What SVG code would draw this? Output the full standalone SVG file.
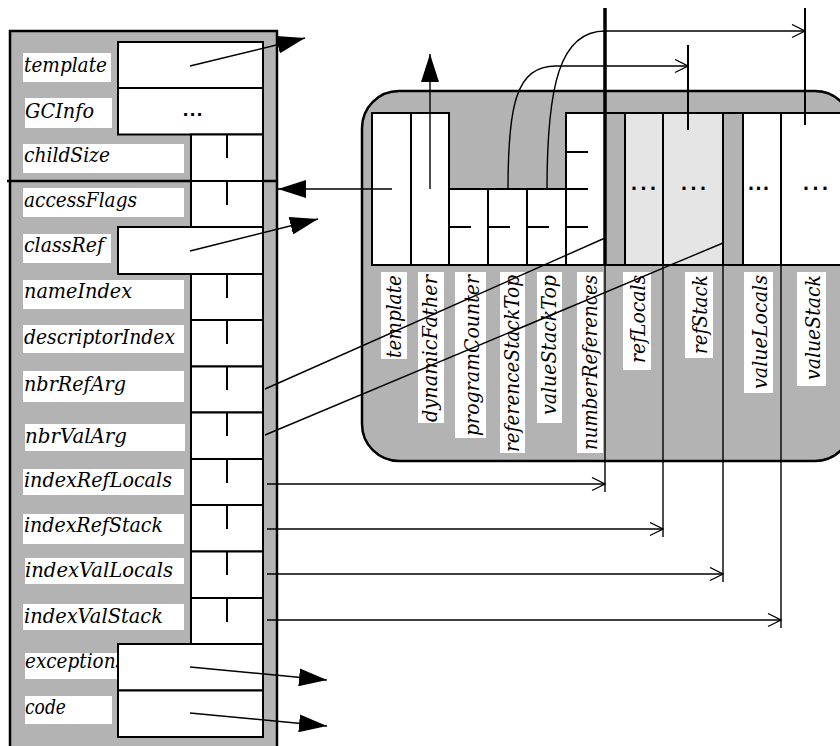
<svg xmlns="http://www.w3.org/2000/svg" width="840" height="746" viewBox="0 0 840 746">
<style>
.lbl{font-family:"DejaVu Serif","Liberation Serif",serif;font-style:italic;font-size:19.5px;fill:#000}
.dots{font-family:"DejaVu Sans","Liberation Sans",sans-serif;font-weight:bold;font-size:17px;fill:#000;text-anchor:middle;letter-spacing:3px}
.bg{fill:#fff}
.cell{fill:#fff;stroke:#000;stroke-width:2}
.lg{fill:#e5e5e5;stroke:#000;stroke-width:2}
.gr{fill:#b3b3b3;stroke:#000;stroke-width:2}
.tick{stroke:#000;stroke-width:2;fill:none}
.conn{fill:none;stroke:#000;stroke-width:1.4}
.big{fill:none;stroke:#000;stroke-width:1.4;marker-end:url(#fill)}
.open{fill:none;stroke:#000;stroke-width:1.4;marker-end:url(#vee)}
</style>
<defs>
<marker id="fill" markerUnits="userSpaceOnUse" viewBox="0 0 28 18" refX="28" refY="9" markerWidth="28" markerHeight="18" orient="auto"><path d="M0,0 L28,9 L0,18 z" fill="#000"/></marker>
<marker id="vee" markerUnits="userSpaceOnUse" viewBox="-1 -1 15 15" refX="13" refY="6.5" markerWidth="15" markerHeight="15" orient="auto"><path d="M0,0 L13,6.5 L0,13" fill="none" stroke="#000" stroke-width="1.3"/></marker>
</defs>

<!-- Left panel: method descriptor -->
<g id="method">
<rect x="10" y="31" width="267" height="730" fill="#b3b3b3" stroke="#000" stroke-width="2.5"/>
<line x1="7" y1="181" x2="277" y2="181" stroke="#000" stroke-width="2.5"/>
<g id="row-template"><rect class="bg" x="23" y="53" width="88" height="29"/><text class="lbl" x="24" y="72" textLength="83" lengthAdjust="spacingAndGlyphs">template</text><rect class="cell" x="118" y="42" width="145" height="46"/></g>
<g id="row-GCInfo"><rect class="bg" x="25" y="98" width="87" height="30"/><text class="lbl" x="25" y="118" textLength="69" lengthAdjust="spacingAndGlyphs">GCInfo</text><rect class="cell" x="118" y="88" width="145" height="46.5"/><text x="193" y="116" font-family="DejaVu Sans,sans-serif" font-weight="bold" font-size="16" text-anchor="middle" letter-spacing="1">...</text></g>
<g id="row-childSize"><rect class="bg" x="23" y="144" width="161" height="29"/><text class="lbl" x="24" y="162" textLength="86" lengthAdjust="spacingAndGlyphs">childSize</text><rect class="cell" x="191" y="134.5" width="72" height="46.5"/><line class="tick" x1="227" y1="134.5" x2="227" y2="158"/></g>
<g id="row-accessFlags"><rect class="bg" x="23" y="188" width="161" height="29"/><text class="lbl" x="24" y="207" textLength="113" lengthAdjust="spacingAndGlyphs">accessFlags</text><rect class="cell" x="191" y="181" width="72" height="46"/><line class="tick" x1="227" y1="181" x2="227" y2="205"/></g>
<g id="row-classRef"><rect class="bg" x="23" y="234" width="88" height="29"/><text class="lbl" x="24" y="252" textLength="80" lengthAdjust="spacingAndGlyphs">classRef</text><rect class="cell" x="118" y="227" width="145" height="47"/></g>
<g id="row-nameIndex"><rect class="bg" x="23" y="280" width="161" height="29"/><text class="lbl" x="24" y="298" textLength="108" lengthAdjust="spacingAndGlyphs">nameIndex</text><rect class="cell" x="191" y="274" width="72" height="46"/><line class="tick" x1="227" y1="274" x2="227" y2="298"/></g>
<g id="row-descriptorIndex"><rect class="bg" x="23" y="325" width="161" height="28"/><text class="lbl" x="24" y="344" textLength="151" lengthAdjust="spacingAndGlyphs">descriptorIndex</text><rect class="cell" x="191" y="320" width="72" height="46.5"/><line class="tick" x1="227" y1="320" x2="227" y2="344"/></g>
<g id="row-nbrRefArg"><rect class="bg" x="23" y="371" width="161" height="31"/><text class="lbl" x="24" y="391" textLength="102" lengthAdjust="spacingAndGlyphs">nbrRefArg</text><rect class="cell" x="191" y="366.5" width="72" height="46"/><line class="tick" x1="227" y1="366.5" x2="227" y2="390"/></g>
<g id="row-nbrValArg"><rect class="bg" x="25" y="424" width="160" height="27"/><text class="lbl" x="25" y="443" textLength="102" lengthAdjust="spacingAndGlyphs">nbrValArg</text><rect class="cell" x="191" y="412.5" width="72" height="46.5"/><line class="tick" x1="227" y1="412.5" x2="227" y2="436"/></g>
<g id="row-indexRefLocals"><rect class="bg" x="23" y="469" width="161" height="26"/><text class="lbl" x="24" y="487" textLength="148" lengthAdjust="spacingAndGlyphs">indexRefLocals</text><rect class="cell" x="191" y="459" width="72" height="46"/><line class="tick" x1="227" y1="459" x2="227" y2="483"/></g>
<g id="row-indexRefStack"><rect class="bg" x="23" y="514" width="161" height="30"/><text class="lbl" x="24" y="532" textLength="139" lengthAdjust="spacingAndGlyphs">indexRefStack</text><rect class="cell" x="191" y="505" width="72" height="46.5"/><line class="tick" x1="227" y1="505" x2="227" y2="529"/></g>
<g id="row-indexValLocals"><rect class="bg" x="25" y="558" width="159" height="26"/><text class="lbl" x="25" y="577" textLength="148" lengthAdjust="spacingAndGlyphs">indexValLocals</text><rect class="cell" x="191" y="551.5" width="72" height="46.5"/><line class="tick" x1="227" y1="551.5" x2="227" y2="575"/></g>
<g id="row-indexValStack"><rect class="bg" x="23" y="604" width="161" height="26"/><text class="lbl" x="24" y="623" textLength="139" lengthAdjust="spacingAndGlyphs">indexValStack</text><rect class="cell" x="191" y="598" width="72" height="46"/><line class="tick" x1="227" y1="598" x2="227" y2="622"/></g>
<g id="row-exceptions"><rect class="bg" x="25" y="653" width="93" height="26"/><text class="lbl" x="25" y="668" textLength="100" lengthAdjust="spacingAndGlyphs">exceptions</text><rect class="cell" x="118" y="644" width="145" height="46.5"/></g>
<g id="row-code"><rect class="bg" x="25" y="696" width="87" height="28"/><text class="lbl" x="25" y="714" textLength="41" lengthAdjust="spacingAndGlyphs">code</text><rect class="cell" x="118" y="690.5" width="145" height="46.5"/></g>
</g>

<!-- Right panel: frame -->
<g id="frame">
<rect x="362" y="91" width="490" height="370" rx="37" ry="37" fill="#b3b3b3" stroke="#000" stroke-width="2.5"/>
<g id="col-template"><rect class="cell" x="372" y="113" width="39" height="152"/><rect class="bg" x="381" y="272" width="26" height="87"/><text class="lbl" transform="translate(401,275) rotate(-90)" text-anchor="end" textLength="83" lengthAdjust="spacingAndGlyphs">template</text></g>
<g id="col-dynamicFather"><rect class="cell" x="411" y="113" width="38" height="152"/><rect class="bg" x="418" y="272" width="26" height="151"/><text class="lbl" transform="translate(437,275) rotate(-90)" text-anchor="end" textLength="147" lengthAdjust="spacingAndGlyphs">dynamicFather</text></g>
<g id="col-programCounter"><rect class="cell" x="449" y="189" width="39" height="76"/><line class="tick" x1="449" y1="227" x2="471" y2="227"/><rect class="bg" x="455" y="272" width="31" height="166"/><text class="lbl" transform="translate(479,275) rotate(-90)" text-anchor="end" textLength="161" lengthAdjust="spacingAndGlyphs">programCounter</text></g>
<g id="col-referenceStackTop"><rect class="cell" x="488" y="189" width="39" height="76"/><line class="tick" x1="488" y1="227" x2="510" y2="227"/><rect class="bg" x="500" y="272" width="25" height="181"/><text class="lbl" transform="translate(519,275) rotate(-90)" text-anchor="end" textLength="177" lengthAdjust="spacingAndGlyphs">referenceStackTop</text></g>
<g id="col-valueStackTop"><rect class="cell" x="527" y="189" width="39" height="76"/><line class="tick" x1="527" y1="227" x2="549" y2="227"/><rect class="bg" x="537" y="272" width="25" height="151"/><text class="lbl" transform="translate(556,275) rotate(-90)" text-anchor="end" textLength="140" lengthAdjust="spacingAndGlyphs">valueStackTop</text></g>
<g id="col-numberReferences"><rect class="cell" x="566" y="113" width="39" height="152"/><line class="tick" x1="566" y1="152" x2="588" y2="152"/><line class="tick" x1="566" y1="189" x2="588" y2="189"/><line class="tick" x1="566" y1="227" x2="588" y2="227"/><rect class="bg" x="577" y="272" width="26" height="181"/><text class="lbl" transform="translate(597,275) rotate(-90)" text-anchor="end" textLength="175" lengthAdjust="spacingAndGlyphs">numberReferences</text></g>
<rect class="gr" x="605" y="113" width="20" height="152"/>
<g id="col-refLocals"><rect class="lg" x="625" y="113" width="38" height="152"/><text class="dots" x="645" y="190">...</text><rect class="bg" x="623" y="272" width="28" height="98"/><text class="lbl" transform="translate(645,275) rotate(-90)" text-anchor="end" textLength="88" lengthAdjust="spacingAndGlyphs">refLocals</text></g>
<g id="col-refStack"><rect class="lg" x="663" y="113" width="60" height="152"/><text class="dots" x="695" y="190">...</text><rect class="bg" x="685" y="272" width="28" height="86"/><text class="lbl" transform="translate(707,275) rotate(-90)" text-anchor="end" textLength="79" lengthAdjust="spacingAndGlyphs">refStack</text></g>
<rect class="gr" x="723" y="113" width="20" height="152"/>
<g id="col-valueLocals"><rect class="cell" x="743" y="113" width="38" height="152"/><text class="dots" x="759" y="190" style="letter-spacing:1px">...</text><rect class="bg" x="744" y="272" width="29" height="121"/><text class="lbl" transform="translate(767,275) rotate(-90)" text-anchor="end" textLength="114" lengthAdjust="spacingAndGlyphs">valueLocals</text></g>
<g id="col-valueStack"><rect class="cell" x="781" y="113" width="70" height="152"/><text class="dots" x="817" y="190">...</text><rect class="bg" x="797" y="272" width="29" height="114"/><text class="lbl" transform="translate(820,275) rotate(-90)" text-anchor="end" textLength="105" lengthAdjust="spacingAndGlyphs">valueStack</text></g>
</g>

<!-- Connectors -->
<g id="connectors">
<line class="big" x1="190" y1="66" x2="305" y2="38"/>
<line class="big" x1="190" y1="251" x2="318" y2="219"/>
<line class="big" x1="392" y1="189" x2="278" y2="189"/>
<line class="big" x1="190" y1="667" x2="327" y2="680"/>
<line class="big" x1="190" y1="713" x2="327" y2="726"/>
<line class="big" x1="430" y1="189" x2="430" y2="54"/>
<line x1="605" y1="8" x2="605" y2="265" stroke="#000" stroke-width="3.5"/>
<line class="conn" x1="605" y1="265" x2="605" y2="492"/>
<line class="conn" x1="663" y1="265" x2="663" y2="537"/>
<line class="conn" x1="723" y1="265" x2="723" y2="582"/>
<line class="conn" x1="781" y1="265" x2="781" y2="628"/>
<line x1="688" y1="45" x2="688" y2="130" stroke="#000" stroke-width="2"/>
<line x1="805" y1="8" x2="805" y2="125" stroke="#000" stroke-width="2"/>
<path class="open" d="M508,189 C508,105 516,66 556,66 L688,66"/>
<path class="open" d="M547,189 C547,85 560,31 605,31 L805,31"/>
<line class="conn" x1="265" y1="389" x2="605" y2="238"/>
<line class="conn" x1="265" y1="435" x2="723" y2="243"/>
<line class="open" x1="267" y1="484" x2="605" y2="484"/>
<line class="open" x1="267" y1="529" x2="663" y2="529"/>
<line class="open" x1="267" y1="574" x2="723" y2="574"/>
<line class="open" x1="267" y1="620" x2="781" y2="620"/>
</g>
</svg>
